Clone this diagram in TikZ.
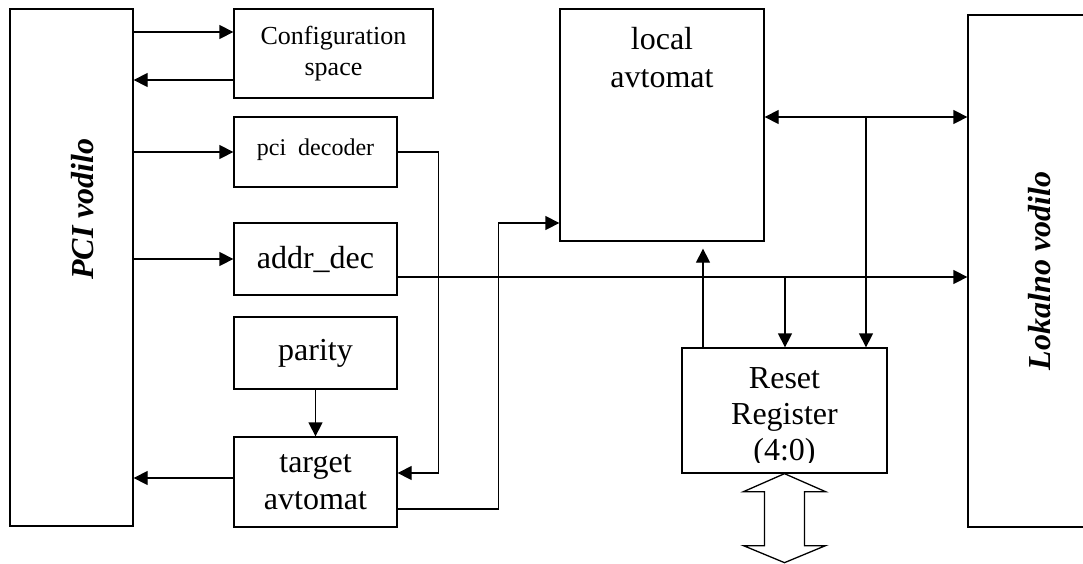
\documentclass[tikz,border=0pt]{standalone}
\usepackage{fontspec}
\setmainfont{Liberation Serif}
\usetikzlibrary{arrows.meta}

\begin{document}
\begin{tikzpicture}[x=1pt, y=-1pt,
		blok/.style={rectangle, draw, line width=1.3pt, inner sep=0pt},
		arr/.style={-{Triangle[length=14pt, width=14pt]}, line width=1.3pt},
		arrs/.style={{Triangle[length=14pt, width=14pt]}-{Triangle[length=14pt, width=14pt]}, line width=1.3pt},
		big/.style={font=\fontsize{32}{37}\selectfont, align=center},
		bus/.style={font=\fontsize{32}{37}\selectfont\bfseries\itshape, rotate=90}]
		\useasboundingbox (0,0) rectangle (1083,563);
		% buses
		\node (pci) at (71.5,267.5) [blok, minimum width=123, minimum height=517,
			label={[xshift=11.5pt, yshift=58.5pt, bus]center:PCI vodilo}] {};
		\node (lokal) at (1040,271) [blok, minimum width=144, minimum height=512,
			label={[bus]center:Lokalno vodilo}] {};
		% blocks
		\node (config) at (333.5,53.5) [blok, minimum width=199, minimum height=89,
			font=\fontsize{26}{31}\selectfont, align=center] {Configuration\\space};
		\node (pcidec) at (315.5,152) [blok, minimum width=163, minimum height=70,
			label={[anchor=base, yshift=2pt, font=\fontsize{24}{28}\selectfont]center:pci\ \ decoder}] {};
		\node (addrdec) at (315.5,259) [blok, big, minimum width=163, minimum height=72] {addr\_dec};
		\node (parity) at (315.5,353) [blok, big, line width=2.2pt, minimum width=163, minimum height=72] {parity};
		\node (target) at (315.5,482) [blok, big, minimum width=163, minimum height=90] {target\\avtomat};
		\node (local) at (662,125) [blok, minimum width=204, minimum height=232,
			label={[big, anchor=north, inner sep=0pt, yshift=-19pt, font=\fontsize{32}{38}\selectfont]north:local\\avtomat}] {};
		\node (reset) at (784.5,410.5) [blok, minimum width=205, minimum height=125] {};
		\begin{scope}
			\clip (reset.north west) rectangle ([yshift=11pt]reset.south east);
			\node (resettext) at ([yshift=-20pt]reset.north) [big, anchor=north, inner sep=0pt,
				font=\fontsize{32}{36}\selectfont] {Reset\\Register\\(4:0)};
		\end{scope}
		\coordinate (j1) at (866,117);
		\coordinate (j2) at (785,277);
		% PCI side
		\draw[arr] ([yshift=21.5pt]config.west -| pci.east) -- ([yshift=21.5pt]config.west);
		\draw[arr] ([yshift=-26.5pt]config.west) -- ([yshift=-26.5pt]config.west -| pci.east);
		\draw[arr] (pcidec.west -| pci.east) -- (pcidec.west);
		\draw[arr] (addrdec.west -| pci.east) -- (addrdec.west);
		\draw[arr] ([yshift=4pt]target.west) -- ([yshift=4pt]target.west -| pci.east);
		\draw[arr] (parity) -- (target);
		\draw[arr] (pcidec.east) -| ([xshift=41pt, yshift=9pt]target.east) -- ([yshift=9pt]target.east);
		\draw[arr] ([yshift=-27pt]target.east) -| ([xshift=-61pt, yshift=-98pt]local.west) -- ([yshift=-98pt]local.west);
		% local side
		\draw[arr] ([yshift=-18pt]addrdec.east) -- ([yshift=-18pt]addrdec.east -| lokal.west);
		\draw[arrs] ([yshift=8pt]local.east) -- ([yshift=8pt]local.east -| lokal.west);
		\draw[arr] (j1) -- (j1 |- reset.north);
		\draw[arr] (j2) -- (j2 |- reset.north);
		\draw[arr, shorten >=7pt] ([xshift=-81.5pt]reset.north) -- ([xshift=-81.5pt]reset.north |- local.south);
		% data port
		\draw[line width=1.3pt] (reset.south) -- ++(41,18) -- ++(-21,0) -- ++(0,54) -- ++(21,0) -- ++(-41,17)
			-- ++(-41,-17) -- ++(21,0) -- ++(0,-54) -- ++(-21,0) -- cycle;
	\end{tikzpicture}
\end{document}
